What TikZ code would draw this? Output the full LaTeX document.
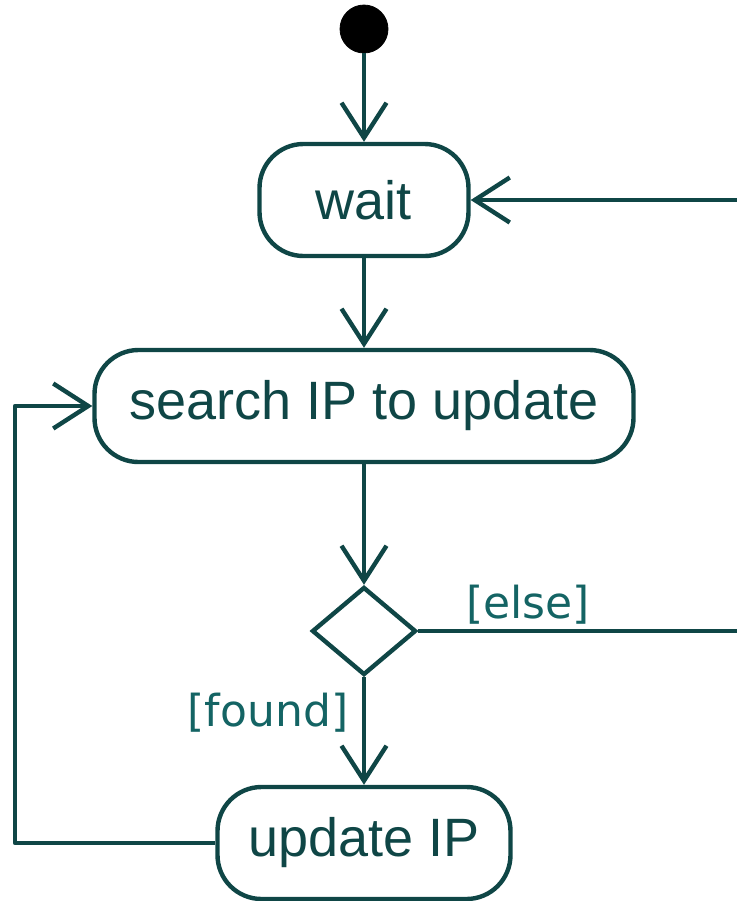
\documentclass[tikz,border=0pt]{standalone}
\usepackage{fontspec}
\setmainfont{Liberation Sans}
\newfontfamily\guardfont{DejaVu Sans}
\usetikzlibrary{positioning}
\usetikzlibrary{arrows.meta}
\usetikzlibrary{shapes.geometric}
\definecolor{umlteal}{RGB}{15,70,70}
\definecolor{guardteal}{RGB}{20,100,100}

\begin{document}
\begin{tikzpicture}[
    x=0.5pt, y=-0.5pt,
    action/.style={rectangle, rounded corners=22pt, draw=umlteal, line width=2.2pt, minimum height=56pt, inner sep=0pt, text=umlteal, font=\fontsize{27}{30}\selectfont},
    initial/.style={circle, fill=black, draw=black, minimum size=24pt, inner sep=0pt},
    decision/.style={diamond, draw=umlteal, line width=2.2pt, minimum width=52pt, minimum height=44pt, inner sep=0pt},
    guard/.style={text=guardteal, font=\guardfont\fontsize{22}{25}\selectfont},
    flow/.style={draw=umlteal, line width=2.2pt, line join=round, -{Straight Barb[length=17.5pt, width=22.5pt]}}
]
    \useasboundingbox (0,0) rectangle (737,901);

    \node[initial] (start) at (364, 29) {};
    \node[action, minimum width=104.5pt] (wait) at (364, 200) {wait};
    \node[action, minimum width=269.5pt] (search) at (364, 406) {search IP to update};
    \node[decision] (dec) at (364, 631) {};
    \node[action, minimum width=146.5pt] (update) at (364, 843) {update IP};

    \draw[flow] (start) -- (wait);
    \draw[flow] (wait) -- (search);
    \draw[flow] (search) -- (dec);
    \draw[flow] (dec) -- (update);

    \node[guard] (found) at (268, 713) {[found]};
    \node[guard] (else) at (528, 605) {[else]};

    \draw[flow] (dec.east) -- (dec.east -| 742,0) |- (wait.east);
    \draw[flow] (update.west) -- (update.west -| 15,0) |- (search.west);
\end{tikzpicture}
\end{document}
